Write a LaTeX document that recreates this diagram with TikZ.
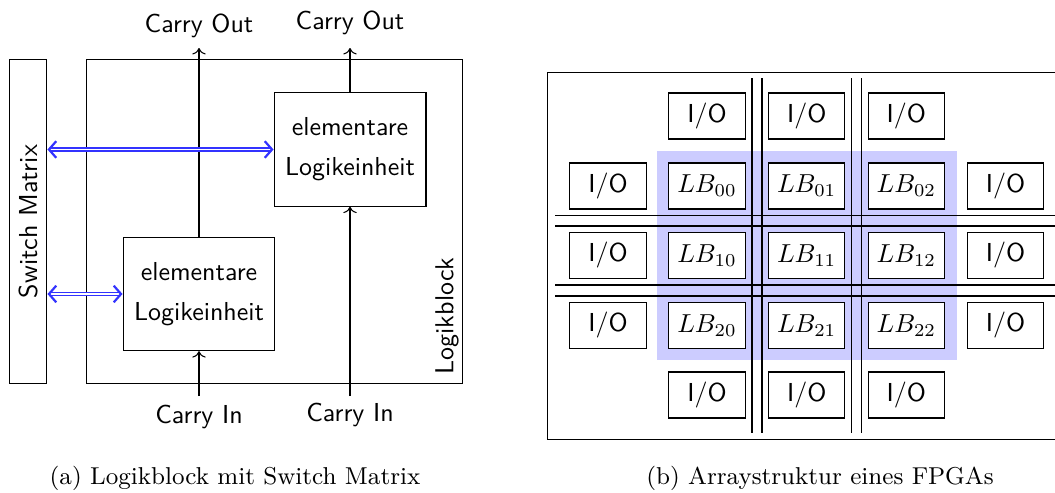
\documentclass[tikz,border=0pt]{standalone}
\usetikzlibrary{arrows.meta}
\begin{document}
\begin{tikzpicture}[x=0.385pt,y=-0.385pt,
  outline/.style={draw,line width=0.4pt},
  lebox/.style={draw,fill=white,inner sep=0pt,minimum width=58.5pt,minimum height=43.6pt,
    align=center,font=\fontsize{10}{15.4}\selectfont\sffamily},
  iobox/.style={draw,fill=white,inner sep=0pt,minimum width=29.3pt,minimum height=17.7pt,font=\sffamily},
  lbbox/.style={iobox,font=\normalfont},
  plaintxt/.style={font=\sffamily,inner sep=0pt},
  carry/.style={->,line width=0.4pt},
  smlink/.style={draw=blue!80,line width=0.45pt,double=white,double distance=0.75pt,
    {Straight Barb[length=2.8pt,width=6.4pt,line width=0.85pt]}-{Straight Barb[length=2.8pt,width=6.4pt,line width=0.85pt]}},
  bus/.style={line width=0.4pt},
  captxt/.style={font=\fontsize{9.4}{11}\selectfont,inner sep=0pt}]
\useasboundingbox (0,0) rectangle (1055,492);
% ---------- (a) ----------
\node[outline,minimum width=14.6pt,minimum height=125.1pt,inner sep=0pt] (sm) at (28,221.5) {};
\node[plaintxt,rotate=90] (smt) at (28,221.5) {Switch Matrix};
\node[outline,minimum width=145.1pt,minimum height=125.1pt,inner sep=0pt] (lb) at (274.5,221.5) {};
\node[plaintxt,rotate=90] (lbt) at (447,316) {Logikblock};
\node[lebox] (le1) at (350,149.5) {elementare\\Logikeinheit};
\node[lebox] (le2) at (199,294) {elementare\\Logikeinheit};
\coordinate (co1) at (199,48);
\coordinate (co2) at (350,48);
\coordinate (ci1) at (199,396);
\coordinate (ci2) at (350,396);
\node[plaintxt] (tco1) at (199,26) {Carry Out};
\node[plaintxt] (tco2) at (350,23) {Carry Out};
\node[plaintxt] (tci1) at (199,417) {Carry In};
\node[plaintxt] (tci2) at (350,415) {Carry In};
\draw[carry] (le2.north) -- (co1);
\draw[carry] (le1.north) -- (co2);
\draw[carry] (ci1) -- (le2.south);
\draw[carry] (ci2) -- (le1.south);
\draw[smlink] (sm.east |- le1.west) -- (le1.west);
\draw[smlink] (sm.east |- le2.west) -- (le2.west);
\node[captxt] (capa) at (235,478) {(a) Logikblock mit Switch Matrix};
% ---------- (b) ----------
\node[outline,minimum width=200pt,minimum height=141.3pt,inner sep=0pt,anchor=north west] (fpga) at (547,72) {};
\fill[blue!20] (657,151) rectangle (957,360);
\coordinate (v1t) at (752,78);   \coordinate (v1b) at (752,433);
\coordinate (v2t) at (762,78);   \coordinate (v2b) at (762,433);
\coordinate (v3t) at (851.5,78); \coordinate (v3b) at (851.5,433);
\coordinate (v4t) at (861.5,78); \coordinate (v4b) at (861.5,433);
\coordinate (h1l) at (555,215.7); \coordinate (h1r) at (1070,215.7);
\coordinate (h2l) at (555,226);   \coordinate (h2r) at (1070,226);
\coordinate (h3l) at (555,285);   \coordinate (h3r) at (1070,285);
\coordinate (h4l) at (555,296);   \coordinate (h4r) at (1070,296);
\draw[bus] (v1t) -- (v1b);
\draw[bus] (v2t) -- (v2b);
\draw[bus] (v3t) -- (v3b);
\draw[bus] (v4t) -- (v4b);
\draw[bus] (h1l) -- (h1r);
\draw[bus] (h2l) -- (h2r);
\draw[bus] (h3l) -- (h3r);
\draw[bus] (h4l) -- (h4r);
% I/O top and bottom
\node[iobox] (iot0) at (707,116) {I/O};
\node[iobox] (iot1) at (806.7,116) {I/O};
\node[iobox] (iot2) at (906.3,116) {I/O};
\node[iobox] (iob0) at (707,395) {I/O};
\node[iobox] (iob1) at (806.7,395) {I/O};
\node[iobox] (iob2) at (906.3,395) {I/O};
% I/O left and right
\node[iobox] (iol0) at (608,186) {I/O};
\node[iobox] (iol1) at (608,255.5) {I/O};
\node[iobox] (iol2) at (608,325.5) {I/O};
\node[iobox] (ior0) at (1005.5,186) {I/O};
\node[iobox] (ior1) at (1005.5,255.5) {I/O};
\node[iobox] (ior2) at (1005.5,325.5) {I/O};
% logic blocks
\node[lbbox] (lb00) at (707,186) {$LB_{00}$};
\node[lbbox] (lb01) at (806.7,186) {$LB_{01}$};
\node[lbbox] (lb02) at (906.3,186) {$LB_{02}$};
\node[lbbox] (lb10) at (707,255.5) {$LB_{10}$};
\node[lbbox] (lb11) at (806.7,255.5) {$LB_{11}$};
\node[lbbox] (lb12) at (906.3,255.5) {$LB_{12}$};
\node[lbbox] (lb20) at (707,325.5) {$LB_{20}$};
\node[lbbox] (lb21) at (806.7,325.5) {$LB_{21}$};
\node[lbbox] (lb22) at (906.3,325.5) {$LB_{22}$};
\node[captxt] (capb) at (820,478) {(b) Arraystruktur eines FPGAs};
\end{tikzpicture}
\end{document}
